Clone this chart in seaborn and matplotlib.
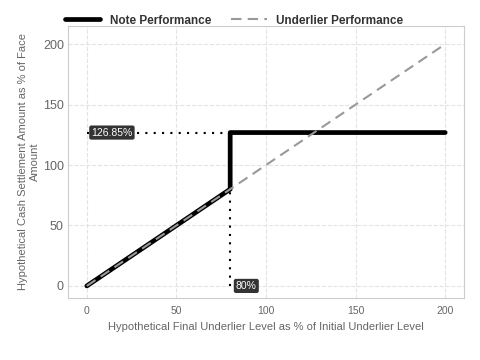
import pandas as pd
import matplotlib.pyplot as plt
import seaborn as sns

# Data
note_x = [0, 80, 80, 200]
note_y = [0, 80, 126.85, 126.85]
under_x = [0, 200]
under_y = [0, 200]
cap_level = 126.85
barrier = 80
x_ticks = [0, 50, 100, 150, 200]
y_ticks = [0, 50, 100, 150, 200]

note = pd.DataFrame({"x": note_x, "y": note_y})
under = pd.DataFrame({"x": under_x, "y": under_y})

sns.set_style("whitegrid", {"grid.linestyle": "--", "grid.color": "#e3e3e3",
                            "axes.edgecolor": "#cccccc"})
plt.rcParams["font.family"] = ["Liberation Sans", "DejaVu Sans"]

fig = plt.figure(figsize=(4.8, 3.6), dpi=100)
ax = fig.add_axes([0.1417, 0.1722, 0.825, 0.7556])

sns.lineplot(data=note, x="x", y="y", ax=ax, color="black", lw=3.4, sort=False,
             estimator=None, label="Note Performance", zorder=2)
sns.lineplot(data=under, x="x", y="y", ax=ax, color="#999999", lw=1.5,
             linestyle=(0, (5, 3)), label="Underlier Performance", zorder=3)

# reference dotted lines
ax.plot([0, barrier], [cap_level, cap_level], color="black", lw=1.5, ls=(0, (1, 3)), zorder=1)
ax.plot([barrier, barrier], [0, barrier], color="black", lw=1.5, ls=(0, (1, 3)), zorder=1)

box = dict(boxstyle="round,pad=0.2", fc="#333333", ec="none")
ax.text(14, cap_level, f"{cap_level}%", color="white", fontsize=7.5, ha="center", va="center",
        bbox=box, zorder=5)
ax.text(89, 0, f"{barrier}%", color="white", fontsize=7.5, ha="center", va="center",
        bbox=box, zorder=5)

ax.set_xlim(-10.5, 210.5)
ax.set_ylim(-10, 215)
ax.set_xticks(x_ticks)
ax.set_yticks(y_ticks)
ax.tick_params(axis="x", labelsize=7.5, colors="#666666", length=0, pad=6)
ax.tick_params(axis="y", labelsize=9, colors="#666666", length=0, pad=3)
ax.set_xlabel("Hypothetical Final Underlier Level as % of Initial Underlier Level",
              fontsize=8, color="#666666", labelpad=4)
ax.set_ylabel("Hypothetical Cash Settlement Amount as % of Face\nAmount",
              fontsize=8, color="#666666", linespacing=1.2, labelpad=2)

leg = ax.legend(loc="center left", bbox_to_anchor=(-0.02, 1.02),
                ncol=2, frameon=False, prop={"weight": "bold", "size": 8.5},
                handlelength=3, columnspacing=1.7, borderaxespad=0.0)
for t in leg.get_texts():
    t.set_color("#333333")

plt.savefig("out.png", dpi=100)
plt.close()
